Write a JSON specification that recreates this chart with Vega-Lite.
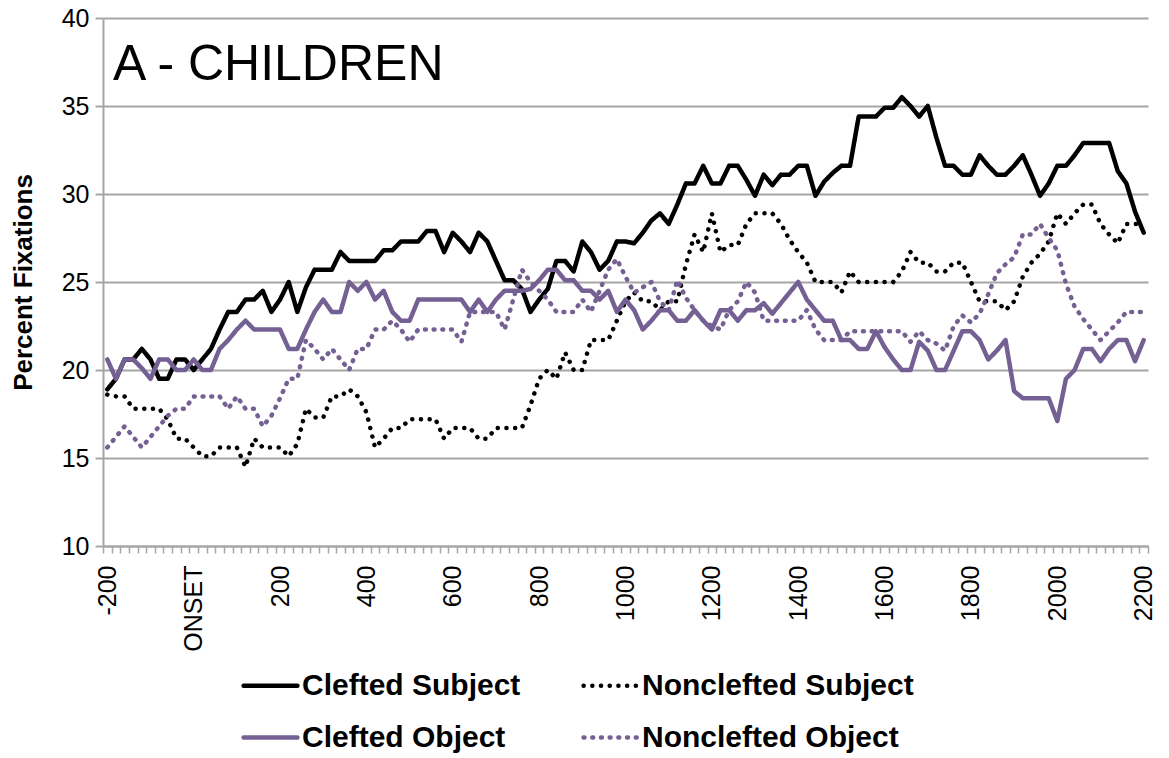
{
  "$schema": "https://vega.github.io/schema/vega-lite/v6.json",
  "width": 1045,
  "height": 528,
  "autosize": {"type": "none"},
  "padding": {"left": 103, "top": 18, "right": 21, "bottom": 212},
  "background": "white",
  "config": {"view": {"stroke": null}, "font": "Liberation Sans"},
  "layer": [
    {
      "data": {"values": [
        {"t": -200, "Clefted Subject": 18.9, "Nonclefted Subject": 18.6, "Clefted Object": 20.6, "Nonclefted Object": 15.6},
        {"t": -180, "Clefted Subject": 19.5, "Nonclefted Subject": 18.5, "Clefted Object": 19.5, "Nonclefted Object": 16.2},
        {"t": -160, "Clefted Subject": 20.6, "Nonclefted Subject": 18.5, "Clefted Object": 20.6, "Nonclefted Object": 16.8},
        {"t": -140, "Clefted Subject": 20.6, "Nonclefted Subject": 17.8, "Clefted Object": 20.6, "Nonclefted Object": 16.2},
        {"t": -120, "Clefted Subject": 21.2, "Nonclefted Subject": 17.8, "Clefted Object": 20.1, "Nonclefted Object": 15.6},
        {"t": -100, "Clefted Subject": 20.6, "Nonclefted Subject": 17.8, "Clefted Object": 19.5, "Nonclefted Object": 16.2},
        {"t": -80, "Clefted Subject": 19.5, "Nonclefted Subject": 17.8, "Clefted Object": 20.6, "Nonclefted Object": 16.8},
        {"t": -60, "Clefted Subject": 19.5, "Nonclefted Subject": 17.2, "Clefted Object": 20.6, "Nonclefted Object": 17.4},
        {"t": -40, "Clefted Subject": 20.6, "Nonclefted Subject": 16.1, "Clefted Object": 20.0, "Nonclefted Object": 17.8},
        {"t": -20, "Clefted Subject": 20.6, "Nonclefted Subject": 16.1, "Clefted Object": 20.0, "Nonclefted Object": 17.8},
        {"t": 0, "Clefted Subject": 20.0, "Nonclefted Subject": 15.6, "Clefted Object": 20.6, "Nonclefted Object": 18.5},
        {"t": 20, "Clefted Subject": 20.6, "Nonclefted Subject": 15.1, "Clefted Object": 20.0, "Nonclefted Object": 18.5},
        {"t": 40, "Clefted Subject": 21.2, "Nonclefted Subject": 15.1, "Clefted Object": 20.0, "Nonclefted Object": 18.5},
        {"t": 60, "Clefted Subject": 22.3, "Nonclefted Subject": 15.6, "Clefted Object": 21.2, "Nonclefted Object": 18.5},
        {"t": 80, "Clefted Subject": 23.3, "Nonclefted Subject": 15.6, "Clefted Object": 21.7, "Nonclefted Object": 17.8},
        {"t": 100, "Clefted Subject": 23.3, "Nonclefted Subject": 15.6, "Clefted Object": 22.3, "Nonclefted Object": 18.5},
        {"t": 120, "Clefted Subject": 24.0, "Nonclefted Subject": 14.5, "Clefted Object": 22.8, "Nonclefted Object": 17.8},
        {"t": 140, "Clefted Subject": 24.0, "Nonclefted Subject": 16.1, "Clefted Object": 22.3, "Nonclefted Object": 17.8},
        {"t": 160, "Clefted Subject": 24.5, "Nonclefted Subject": 15.6, "Clefted Object": 22.3, "Nonclefted Object": 16.8},
        {"t": 180, "Clefted Subject": 23.3, "Nonclefted Subject": 15.6, "Clefted Object": 22.3, "Nonclefted Object": 17.4},
        {"t": 200, "Clefted Subject": 24.0, "Nonclefted Subject": 15.6, "Clefted Object": 22.3, "Nonclefted Object": 18.4},
        {"t": 220, "Clefted Subject": 25.0, "Nonclefted Subject": 15.1, "Clefted Object": 21.2, "Nonclefted Object": 19.5},
        {"t": 240, "Clefted Subject": 23.3, "Nonclefted Subject": 15.8, "Clefted Object": 21.2, "Nonclefted Object": 19.5},
        {"t": 260, "Clefted Subject": 24.7, "Nonclefted Subject": 17.8, "Clefted Object": 22.3, "Nonclefted Object": 21.7},
        {"t": 280, "Clefted Subject": 25.7, "Nonclefted Subject": 17.3, "Clefted Object": 23.3, "Nonclefted Object": 21.2},
        {"t": 300, "Clefted Subject": 25.7, "Nonclefted Subject": 17.3, "Clefted Object": 24.0, "Nonclefted Object": 20.6},
        {"t": 320, "Clefted Subject": 25.7, "Nonclefted Subject": 18.5, "Clefted Object": 23.3, "Nonclefted Object": 21.2},
        {"t": 340, "Clefted Subject": 26.7, "Nonclefted Subject": 18.5, "Clefted Object": 23.3, "Nonclefted Object": 20.6},
        {"t": 360, "Clefted Subject": 26.2, "Nonclefted Subject": 18.9, "Clefted Object": 25.0, "Nonclefted Object": 20.0},
        {"t": 380, "Clefted Subject": 26.2, "Nonclefted Subject": 18.5, "Clefted Object": 24.5, "Nonclefted Object": 21.2},
        {"t": 400, "Clefted Subject": 26.2, "Nonclefted Subject": 17.6, "Clefted Object": 25.0, "Nonclefted Object": 21.2},
        {"t": 420, "Clefted Subject": 26.2, "Nonclefted Subject": 15.6, "Clefted Object": 24.0, "Nonclefted Object": 22.3},
        {"t": 440, "Clefted Subject": 26.8, "Nonclefted Subject": 16.1, "Clefted Object": 24.5, "Nonclefted Object": 22.3},
        {"t": 460, "Clefted Subject": 26.8, "Nonclefted Subject": 16.7, "Clefted Object": 23.3, "Nonclefted Object": 22.8},
        {"t": 480, "Clefted Subject": 27.3, "Nonclefted Subject": 16.7, "Clefted Object": 22.8, "Nonclefted Object": 22.3},
        {"t": 500, "Clefted Subject": 27.3, "Nonclefted Subject": 17.2, "Clefted Object": 22.8, "Nonclefted Object": 21.6},
        {"t": 520, "Clefted Subject": 27.3, "Nonclefted Subject": 17.2, "Clefted Object": 24.0, "Nonclefted Object": 22.3},
        {"t": 540, "Clefted Subject": 27.9, "Nonclefted Subject": 17.2, "Clefted Object": 24.0, "Nonclefted Object": 22.3},
        {"t": 560, "Clefted Subject": 27.9, "Nonclefted Subject": 17.2, "Clefted Object": 24.0, "Nonclefted Object": 22.3},
        {"t": 580, "Clefted Subject": 26.7, "Nonclefted Subject": 16.1, "Clefted Object": 24.0, "Nonclefted Object": 22.3},
        {"t": 600, "Clefted Subject": 27.8, "Nonclefted Subject": 16.7, "Clefted Object": 24.0, "Nonclefted Object": 22.3},
        {"t": 620, "Clefted Subject": 27.3, "Nonclefted Subject": 16.7, "Clefted Object": 24.0, "Nonclefted Object": 21.6},
        {"t": 640, "Clefted Subject": 26.7, "Nonclefted Subject": 16.7, "Clefted Object": 23.3, "Nonclefted Object": 23.3},
        {"t": 660, "Clefted Subject": 27.8, "Nonclefted Subject": 16.1, "Clefted Object": 24.0, "Nonclefted Object": 23.3},
        {"t": 680, "Clefted Subject": 27.3, "Nonclefted Subject": 16.1, "Clefted Object": 23.3, "Nonclefted Object": 23.3},
        {"t": 700, "Clefted Subject": 26.2, "Nonclefted Subject": 16.7, "Clefted Object": 24.0, "Nonclefted Object": 23.3},
        {"t": 720, "Clefted Subject": 25.1, "Nonclefted Subject": 16.7, "Clefted Object": 24.5, "Nonclefted Object": 22.3},
        {"t": 740, "Clefted Subject": 25.1, "Nonclefted Subject": 16.7, "Clefted Object": 24.5, "Nonclefted Object": 24.0},
        {"t": 760, "Clefted Subject": 24.6, "Nonclefted Subject": 16.7, "Clefted Object": 24.5, "Nonclefted Object": 25.7},
        {"t": 780, "Clefted Subject": 23.3, "Nonclefted Subject": 18.0, "Clefted Object": 24.6, "Nonclefted Object": 25.0},
        {"t": 800, "Clefted Subject": 24.0, "Nonclefted Subject": 19.5, "Clefted Object": 25.1, "Nonclefted Object": 24.5},
        {"t": 820, "Clefted Subject": 24.6, "Nonclefted Subject": 20.0, "Clefted Object": 25.7, "Nonclefted Object": 24.0},
        {"t": 840, "Clefted Subject": 26.2, "Nonclefted Subject": 19.5, "Clefted Object": 25.7, "Nonclefted Object": 23.3},
        {"t": 860, "Clefted Subject": 26.2, "Nonclefted Subject": 21.0, "Clefted Object": 25.1, "Nonclefted Object": 23.3},
        {"t": 880, "Clefted Subject": 25.6, "Nonclefted Subject": 20.0, "Clefted Object": 25.1, "Nonclefted Object": 23.3},
        {"t": 900, "Clefted Subject": 27.3, "Nonclefted Subject": 20.0, "Clefted Object": 24.5, "Nonclefted Object": 24.0},
        {"t": 920, "Clefted Subject": 26.7, "Nonclefted Subject": 21.7, "Clefted Object": 24.5, "Nonclefted Object": 23.3},
        {"t": 940, "Clefted Subject": 25.7, "Nonclefted Subject": 21.7, "Clefted Object": 24.0, "Nonclefted Object": 24.5},
        {"t": 960, "Clefted Subject": 26.2, "Nonclefted Subject": 21.7, "Clefted Object": 24.5, "Nonclefted Object": 25.7},
        {"t": 980, "Clefted Subject": 27.3, "Nonclefted Subject": 22.8, "Clefted Object": 23.3, "Nonclefted Object": 26.3},
        {"t": 1000, "Clefted Subject": 27.3, "Nonclefted Subject": 23.9, "Clefted Object": 24.0, "Nonclefted Object": 25.3},
        {"t": 1020, "Clefted Subject": 27.2, "Nonclefted Subject": 24.4, "Clefted Object": 23.4, "Nonclefted Object": 24.4},
        {"t": 1040, "Clefted Subject": 27.8, "Nonclefted Subject": 23.9, "Clefted Object": 22.3, "Nonclefted Object": 24.7},
        {"t": 1060, "Clefted Subject": 28.5, "Nonclefted Subject": 23.9, "Clefted Object": 22.8, "Nonclefted Object": 25.0},
        {"t": 1080, "Clefted Subject": 28.9, "Nonclefted Subject": 23.4, "Clefted Object": 23.4, "Nonclefted Object": 23.9},
        {"t": 1100, "Clefted Subject": 28.3, "Nonclefted Subject": 23.9, "Clefted Object": 23.4, "Nonclefted Object": 23.4},
        {"t": 1120, "Clefted Subject": 29.4, "Nonclefted Subject": 23.9, "Clefted Object": 22.8, "Nonclefted Object": 25.1},
        {"t": 1140, "Clefted Subject": 30.6, "Nonclefted Subject": 26.0, "Clefted Object": 22.8, "Nonclefted Object": 24.1},
        {"t": 1160, "Clefted Subject": 30.6, "Nonclefted Subject": 27.7, "Clefted Object": 23.4, "Nonclefted Object": 23.4},
        {"t": 1180, "Clefted Subject": 31.6, "Nonclefted Subject": 26.7, "Clefted Object": 22.8, "Nonclefted Object": 22.8},
        {"t": 1200, "Clefted Subject": 30.6, "Nonclefted Subject": 28.9, "Clefted Object": 22.3, "Nonclefted Object": 22.5},
        {"t": 1220, "Clefted Subject": 30.6, "Nonclefted Subject": 26.7, "Clefted Object": 23.4, "Nonclefted Object": 22.3},
        {"t": 1240, "Clefted Subject": 31.6, "Nonclefted Subject": 27.1, "Clefted Object": 23.4, "Nonclefted Object": 23.4},
        {"t": 1260, "Clefted Subject": 31.6, "Nonclefted Subject": 27.1, "Clefted Object": 22.8, "Nonclefted Object": 23.9},
        {"t": 1280, "Clefted Subject": 30.8, "Nonclefted Subject": 28.3, "Clefted Object": 23.4, "Nonclefted Object": 25.0},
        {"t": 1300, "Clefted Subject": 29.9, "Nonclefted Subject": 28.9, "Clefted Object": 23.4, "Nonclefted Object": 24.4},
        {"t": 1320, "Clefted Subject": 31.1, "Nonclefted Subject": 28.9, "Clefted Object": 23.8, "Nonclefted Object": 22.8},
        {"t": 1340, "Clefted Subject": 30.5, "Nonclefted Subject": 28.9, "Clefted Object": 23.2, "Nonclefted Object": 22.8},
        {"t": 1360, "Clefted Subject": 31.1, "Nonclefted Subject": 28.3, "Clefted Object": 23.8, "Nonclefted Object": 22.8},
        {"t": 1380, "Clefted Subject": 31.1, "Nonclefted Subject": 27.4, "Clefted Object": 24.4, "Nonclefted Object": 22.8},
        {"t": 1400, "Clefted Subject": 31.6, "Nonclefted Subject": 26.7, "Clefted Object": 25.0, "Nonclefted Object": 22.8},
        {"t": 1420, "Clefted Subject": 31.6, "Nonclefted Subject": 26.1, "Clefted Object": 24.0, "Nonclefted Object": 23.4},
        {"t": 1440, "Clefted Subject": 29.9, "Nonclefted Subject": 25.0, "Clefted Object": 23.4, "Nonclefted Object": 22.3},
        {"t": 1460, "Clefted Subject": 30.7, "Nonclefted Subject": 25.0, "Clefted Object": 22.8, "Nonclefted Object": 21.7},
        {"t": 1480, "Clefted Subject": 31.2, "Nonclefted Subject": 25.0, "Clefted Object": 22.8, "Nonclefted Object": 21.7},
        {"t": 1500, "Clefted Subject": 31.6, "Nonclefted Subject": 24.4, "Clefted Object": 21.7, "Nonclefted Object": 21.7},
        {"t": 1520, "Clefted Subject": 31.6, "Nonclefted Subject": 25.6, "Clefted Object": 21.7, "Nonclefted Object": 22.2},
        {"t": 1540, "Clefted Subject": 34.4, "Nonclefted Subject": 25.0, "Clefted Object": 21.2, "Nonclefted Object": 22.2},
        {"t": 1560, "Clefted Subject": 34.4, "Nonclefted Subject": 25.0, "Clefted Object": 21.2, "Nonclefted Object": 22.2},
        {"t": 1580, "Clefted Subject": 34.4, "Nonclefted Subject": 25.0, "Clefted Object": 22.2, "Nonclefted Object": 22.2},
        {"t": 1600, "Clefted Subject": 34.9, "Nonclefted Subject": 25.0, "Clefted Object": 21.3, "Nonclefted Object": 22.2},
        {"t": 1620, "Clefted Subject": 34.9, "Nonclefted Subject": 25.0, "Clefted Object": 20.6, "Nonclefted Object": 22.2},
        {"t": 1640, "Clefted Subject": 35.5, "Nonclefted Subject": 25.6, "Clefted Object": 20.0, "Nonclefted Object": 22.2},
        {"t": 1660, "Clefted Subject": 35.0, "Nonclefted Subject": 26.7, "Clefted Object": 20.0, "Nonclefted Object": 21.6},
        {"t": 1680, "Clefted Subject": 34.4, "Nonclefted Subject": 26.1, "Clefted Object": 21.6, "Nonclefted Object": 22.2},
        {"t": 1700, "Clefted Subject": 35.0, "Nonclefted Subject": 26.1, "Clefted Object": 21.1, "Nonclefted Object": 21.7},
        {"t": 1720, "Clefted Subject": 33.2, "Nonclefted Subject": 25.6, "Clefted Object": 20.0, "Nonclefted Object": 21.5},
        {"t": 1740, "Clefted Subject": 31.6, "Nonclefted Subject": 25.6, "Clefted Object": 20.0, "Nonclefted Object": 21.1},
        {"t": 1760, "Clefted Subject": 31.6, "Nonclefted Subject": 26.1, "Clefted Object": 21.1, "Nonclefted Object": 22.5},
        {"t": 1780, "Clefted Subject": 31.1, "Nonclefted Subject": 26.1, "Clefted Object": 22.2, "Nonclefted Object": 23.1},
        {"t": 1800, "Clefted Subject": 31.1, "Nonclefted Subject": 25.0, "Clefted Object": 22.2, "Nonclefted Object": 22.7},
        {"t": 1820, "Clefted Subject": 32.2, "Nonclefted Subject": 23.9, "Clefted Object": 21.7, "Nonclefted Object": 23.2},
        {"t": 1840, "Clefted Subject": 31.6, "Nonclefted Subject": 23.9, "Clefted Object": 20.6, "Nonclefted Object": 24.3},
        {"t": 1860, "Clefted Subject": 31.1, "Nonclefted Subject": 23.9, "Clefted Object": 21.1, "Nonclefted Object": 25.5},
        {"t": 1880, "Clefted Subject": 31.1, "Nonclefted Subject": 23.4, "Clefted Object": 21.7, "Nonclefted Object": 26.0},
        {"t": 1900, "Clefted Subject": 31.6, "Nonclefted Subject": 23.9, "Clefted Object": 18.8, "Nonclefted Object": 26.4},
        {"t": 1920, "Clefted Subject": 32.2, "Nonclefted Subject": 25.3, "Clefted Object": 18.4, "Nonclefted Object": 27.7},
        {"t": 1940, "Clefted Subject": 31.1, "Nonclefted Subject": 26.1, "Clefted Object": 18.4, "Nonclefted Object": 27.7},
        {"t": 1960, "Clefted Subject": 29.9, "Nonclefted Subject": 26.6, "Clefted Object": 18.4, "Nonclefted Object": 28.3},
        {"t": 1980, "Clefted Subject": 30.6, "Nonclefted Subject": 27.3, "Clefted Object": 18.4, "Nonclefted Object": 27.5},
        {"t": 2000, "Clefted Subject": 31.6, "Nonclefted Subject": 28.9, "Clefted Object": 17.1, "Nonclefted Object": 26.8},
        {"t": 2020, "Clefted Subject": 31.6, "Nonclefted Subject": 28.3, "Clefted Object": 19.5, "Nonclefted Object": 24.9},
        {"t": 2040, "Clefted Subject": 32.2, "Nonclefted Subject": 28.9, "Clefted Object": 20.0, "Nonclefted Object": 23.6},
        {"t": 2060, "Clefted Subject": 32.9, "Nonclefted Subject": 29.4, "Clefted Object": 21.2, "Nonclefted Object": 22.9},
        {"t": 2080, "Clefted Subject": 32.9, "Nonclefted Subject": 29.4, "Clefted Object": 21.2, "Nonclefted Object": 22.3},
        {"t": 2100, "Clefted Subject": 32.9, "Nonclefted Subject": 28.3, "Clefted Object": 20.5, "Nonclefted Object": 21.7},
        {"t": 2120, "Clefted Subject": 32.9, "Nonclefted Subject": 27.7, "Clefted Object": 21.2, "Nonclefted Object": 22.2},
        {"t": 2140, "Clefted Subject": 31.3, "Nonclefted Subject": 27.2, "Clefted Object": 21.7, "Nonclefted Object": 22.7},
        {"t": 2160, "Clefted Subject": 30.6, "Nonclefted Subject": 28.3, "Clefted Object": 21.7, "Nonclefted Object": 23.3},
        {"t": 2180, "Clefted Subject": 29.0, "Nonclefted Subject": 28.3, "Clefted Object": 20.5, "Nonclefted Object": 23.3},
        {"t": 2200, "Clefted Subject": 27.8, "Nonclefted Subject": 28.3, "Clefted Object": 21.7, "Nonclefted Object": 23.3}
      ]},
      "transform": [{"fold": ["Clefted Subject", "Nonclefted Subject", "Clefted Object", "Nonclefted Object"], "as": ["series", "pct"]}],
      "mark": {"type": "line", "strokeWidth": 4.5, "strokeCap": "round", "strokeJoin": "round"},
      "encoding": {
        "x": {
          "field": "t", "type": "quantitative",
          "scale": {"domain": [-210, 2210], "nice": false, "zero": false},
          "axis": {
            "title": null,
            "values": [-210,-190,-170,-150,-130,-110,-90,-70,-50,-30,-10,10,30,50,70,90,110,130,150,170,190,210,230,250,270,290,310,330,350,370,390,410,430,450,470,490,510,530,550,570,590,610,630,650,670,690,710,730,750,770,790,810,830,850,870,890,910,930,950,970,990,1010,1030,1050,1070,1090,1110,1130,1150,1170,1190,1210,1230,1250,1270,1290,1310,1330,1350,1370,1390,1410,1430,1450,1470,1490,1510,1530,1550,1570,1590,1610,1630,1650,1670,1690,1710,1730,1750,1770,1790,1810,1830,1850,1870,1890,1910,1930,1950,1970,1990,2010,2030,2050,2070,2090,2110,2130,2150,2170,2190,2210],
            "labelExpr": "((datum.value + 10) % 200 == 0 && datum.value < 2210) ? ((datum.value + 10) == 0 ? 'ONSET' : '' + (datum.value + 10)) : ''",
            "labelAngle": 270,
            "labelOffset": 4.3,
            "labelFontSize": 25,
            "labelFont": "Liberation Sans",
            "labelColor": "black",
            "labelPadding": 12,
            "labelOverlap": false,
            "labelBound": false,
            "labelFlush": false,
            "tickSize": 7,
            "tickWidth": 1.5,
            "tickColor": "#a6a6a6",
            "domainColor": "#a6a6a6",
            "domainWidth": 2,
            "grid": false
          }
        },
        "y": {
          "field": "pct", "type": "quantitative",
          "scale": {"domain": [10, 40], "nice": false, "zero": false},
          "axis": {
            "title": "Percent Fixations",
            "titleFontSize": 26,
            "titleFontWeight": "bold",
            "titleFont": "Liberation Sans",
            "titleColor": "black",
            "titlePadding": 25,
            "values": [10, 15, 20, 25, 30, 35, 40],
            "labelFontSize": 25,
            "labelFont": "Liberation Sans",
            "labelColor": "black",
            "labelPadding": 6,
            "tickSize": 8,
            "tickWidth": 2,
            "tickColor": "#a6a6a6",
            "domainColor": "#a6a6a6",
            "domainWidth": 2,
            "grid": true,
            "gridColor": "#a6a6a6",
            "gridWidth": 2
          }
        },
        "color": {
          "field": "series", "type": "nominal",
          "sort": ["Clefted Subject", "Clefted Object", "Nonclefted Subject", "Nonclefted Object"],
          "scale": {"domain": ["Clefted Subject", "Clefted Object", "Nonclefted Subject", "Nonclefted Object"], "range": ["#000000", "#756093", "#000000", "#756093"]},
          "legend": {"title": null, "orient": "none", "legendX": 138, "legendY": 638, "columns": 2, "gridAlign": "each", "symbolType": "stroke", "symbolSize": 2900, "symbolStrokeWidth": 4.5, "labelFontSize": 30, "labelFontWeight": "bold", "labelFont": "Liberation Sans", "labelColor": "black", "labelOffset": 2, "columnPadding": 53, "rowPadding": 7, "padding": 0, "labelLimit": 400, "encoding": {"symbols": {"strokeCap": {"value": "round"}}}}
        },
        "strokeDash": {
          "field": "series", "type": "nominal",
          "sort": ["Clefted Subject", "Clefted Object", "Nonclefted Subject", "Nonclefted Object"],
          "scale": {"domain": ["Clefted Subject", "Clefted Object", "Nonclefted Subject", "Nonclefted Object"], "range": [[1, 0], [1, 0], [0.1, 8.6], [0.9, 7.8]]},
          "legend": {"title": null, "orient": "none", "legendX": 138, "legendY": 638, "columns": 2, "gridAlign": "each", "symbolType": "stroke", "symbolSize": 2900, "symbolStrokeWidth": 4.5, "labelFontSize": 30, "labelFontWeight": "bold", "labelFont": "Liberation Sans", "labelColor": "black", "labelOffset": 2, "columnPadding": 53, "rowPadding": 7, "padding": 0, "labelLimit": 400, "encoding": {"symbols": {"strokeCap": {"value": "round"}}}}
        }
      }
    },
    {
      "data": {"values": [{"label": "A - CHILDREN"}]},
      "mark": {"type": "text", "align": "left", "baseline": "alphabetic", "fontSize": 50, "font": "Liberation Sans", "color": "black"},
      "encoding": {
        "x": {
          "datum": -187, "type": "quantitative",
          "axis": {
            "title": null,
            "values": [-210,-190,-170,-150,-130,-110,-90,-70,-50,-30,-10,10,30,50,70,90,110,130,150,170,190,210,230,250,270,290,310,330,350,370,390,410,430,450,470,490,510,530,550,570,590,610,630,650,670,690,710,730,750,770,790,810,830,850,870,890,910,930,950,970,990,1010,1030,1050,1070,1090,1110,1130,1150,1170,1190,1210,1230,1250,1270,1290,1310,1330,1350,1370,1390,1410,1430,1450,1470,1490,1510,1530,1550,1570,1590,1610,1630,1650,1670,1690,1710,1730,1750,1770,1790,1810,1830,1850,1870,1890,1910,1930,1950,1970,1990,2010,2030,2050,2070,2090,2110,2130,2150,2170,2190,2210],
            "labelExpr": "((datum.value + 10) % 200 == 0 && datum.value < 2210) ? ((datum.value + 10) == 0 ? 'ONSET' : '' + (datum.value + 10)) : ''",
            "labelAngle": 270,
            "labelOffset": 4.3,
            "labelFontSize": 25,
            "labelFont": "Liberation Sans",
            "labelColor": "black",
            "labelPadding": 12,
            "labelOverlap": false,
            "labelBound": false,
            "labelFlush": false,
            "tickSize": 7,
            "tickWidth": 1.5,
            "tickColor": "#a6a6a6",
            "domainColor": "#a6a6a6",
            "domainWidth": 2,
            "grid": false
          }
        },
        "y": {
          "datum": 36.5, "type": "quantitative",
          "axis": {
            "title": "Percent Fixations",
            "titleFontSize": 26,
            "titleFontWeight": "bold",
            "titleFont": "Liberation Sans",
            "titleColor": "black",
            "titlePadding": 25,
            "values": [10, 15, 20, 25, 30, 35, 40],
            "labelFontSize": 25,
            "labelFont": "Liberation Sans",
            "labelColor": "black",
            "labelPadding": 6,
            "tickSize": 8,
            "tickWidth": 2,
            "tickColor": "#a6a6a6",
            "domainColor": "#a6a6a6",
            "domainWidth": 2,
            "grid": true,
            "gridColor": "#a6a6a6",
            "gridWidth": 2
          }
        },
        "text": {"field": "label", "type": "nominal"}
      }
    }
  ]
}
